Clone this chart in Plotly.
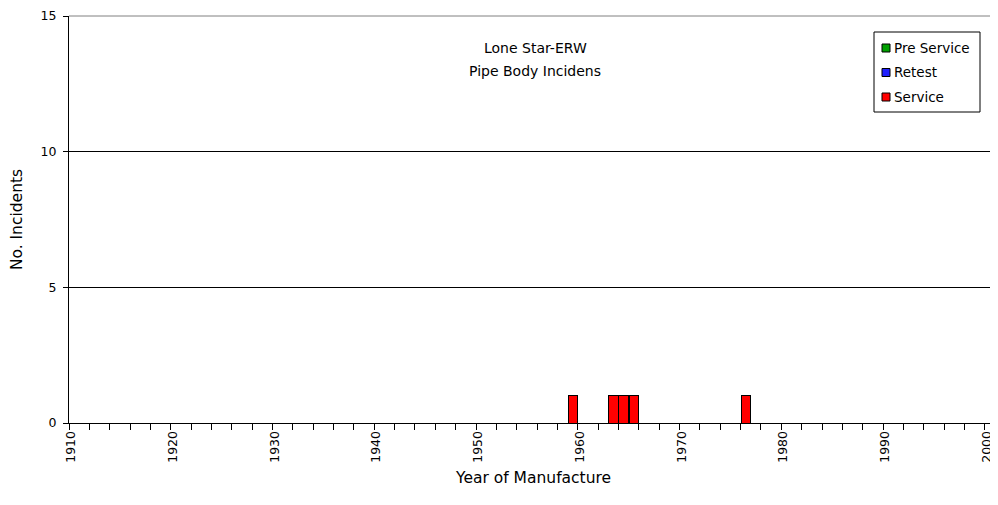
import plotly.graph_objects as go

years = list(range(1910, 2001))
service_years = [1959, 1963, 1964, 1965, 1976]
service_counts = [1, 1, 1, 1, 1]

pre_service = [0] * len(years)
retest = [0] * len(years)
service = [service_counts[service_years.index(y)] if y in service_years else 0 for y in years]

tick_years = list(range(1910, 2001, 10))
tick_text = [str(y) for y in tick_years]

series_names = ["Pre Service", "Retest", "Service"]
series_colors = ["#00a000", "#2020ff", "#ff0000"]
series_values = [pre_service, retest, service]

fig = go.Figure()
for name, color, vals in zip(series_names, series_colors, series_values):
    fig.add_trace(go.Bar(x=years, y=vals, name=name, showlegend=False,
                         marker=dict(color=color, line=dict(color="black", width=1))))

font = "DejaVu Sans, Verdana, sans-serif"
L, R, T, B = 69, 995, 16, 423  # plot area in page pixels


def px(x):
    return (x - L) / (R - L)


def py(y):
    return (B - y) / (B - T)


fig.update_layout(
    width=989, height=497,
    margin=dict(l=61, r=2, t=8, b=82, autoexpand=False),
    paper_bgcolor="white", plot_bgcolor="white",
    barmode="stack", bargap=0.08,
    font=dict(family=font, size=13, color="black"),
    showlegend=False,
    xaxis=dict(range=[1909.5, 2000.5], tickmode="array", tickvals=tick_years,
               ticktext=tick_text, tickangle=-90, ticks="", automargin=False,
               ticklabelshift=-3, ticklabelstandoff=2,
               showgrid=False, showline=True, linecolor="black", linewidth=1,
               zeroline=False,
               minor=dict(tick0=1909.5, dtick=2, ticks="outside", ticklen=6,
                          tickcolor="black", showgrid=False),
               tickfont=dict(size=12.5)),
    yaxis=dict(range=[0, 15], tickvals=[0, 5, 10, 15], ticks="outside", ticklen=5,
               tickcolor="black", showgrid=True, gridcolor="black", gridwidth=1,
               showline=True, linecolor="black", linewidth=1, zeroline=False,
               automargin=False, ticklabelstandoff=4,
               title=dict(text="No. Incidents", standoff=14, font=dict(size=15.5)),
               tickfont=dict(size=12.5)),
)
fig.add_shape(type="line", xref="paper", yref="paper", x0=0, x1=1, y0=1, y1=1,
              line=dict(color="#808080", width=1))
fig.add_shape(type="line", xref="paper", yref="paper", x0=1, x1=1, y0=0, y1=1,
              line=dict(color="#808080", width=1))

# x-axis title
fig.add_annotation(text="Year of Manufacture", xref="paper", yref="paper",
                   x=px(533), y=py(478), xanchor="center", yanchor="middle",
                   showarrow=False, font=dict(size=15.5))

# chart title inside plot
fig.add_annotation(text="Lone Star-ERW", xref="paper", yref="paper",
                   x=px(535), y=py(48), xanchor="center", yanchor="middle",
                   showarrow=False, font=dict(size=14))
fig.add_annotation(text="Pipe Body Incidens", xref="paper", yref="paper",
                   x=px(535), y=py(71), xanchor="center", yanchor="middle",
                   showarrow=False, font=dict(size=14))

# legend box (drawn)
fig.add_shape(type="rect", xref="paper", yref="paper",
              x0=px(874), x1=px(980), y0=py(112), y1=py(32),
              line=dict(color="black", width=1), fillcolor="white", layer="above")
for i, (name, color) in enumerate(zip(series_names, series_colors)):
    yc = 48 + i * 24.5
    fig.add_shape(type="rect", xref="paper", yref="paper",
                  x0=px(882), x1=px(890), y0=py(yc + 4), y1=py(yc - 4),
                  line=dict(color="black", width=1), fillcolor=color, layer="above")
    fig.add_annotation(text=name, xref="paper", yref="paper", x=px(892), y=py(yc),
                       xanchor="left", yanchor="middle", showarrow=False,
                       font=dict(size=13.5))

fig.write_html("out.html")
